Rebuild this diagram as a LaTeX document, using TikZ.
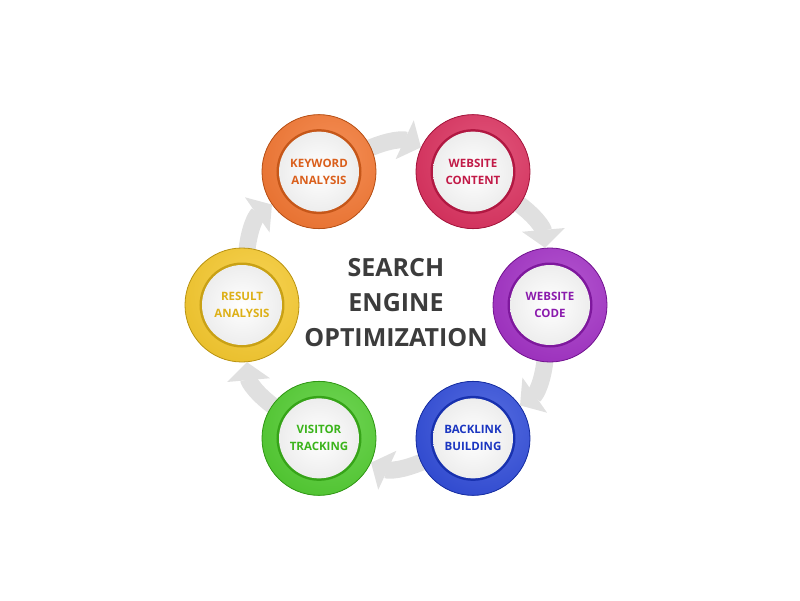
\documentclass[tikz,border=0pt]{standalone}
\usepackage{fontspec}
\setmainfont{Open Sans}
\usetikzlibrary{arrows.meta,backgrounds}

\definecolor{seotitle}{HTML}{3C3C3C}
\definecolor{seoorange}{HTML}{F26A1F}
\definecolor{seored}{HTML}{D81E50}
\definecolor{seopurple}{HTML}{9A1EC0}
\definecolor{seoblue}{HTML}{1E3CD6}
\definecolor{seogreen}{HTML}{42C81E}
\definecolor{seoyellow}{HTML}{F5C41A}

\tikzset{
  stage/.style={circle, minimum size=114pt, inner sep=0pt, fill=#1, draw=#1!75!black,
    line width=0.8pt, text=#1!90!black, align=center,
    font=\bfseries\fontsize{11.5}{17}\selectfont,
    path picture={
      \coordinate (pc) at (path picture bounding box.center);
      \begin{scope}
        \clip (pc) circle (57pt);
        \shade[inner color=#1!75!white, outer color=#1!92!black] ([shift={(12pt,14pt)}]pc) circle (120pt);
      \end{scope}
      \fill[#1!82!black] (pc) circle (42.5pt);
      \begin{scope}
        \clip (pc) circle (40pt);
        \shade[inner color=white, outer color=black!14] (pc) circle (80pt);
      \end{scope}
    }},
  flow/.style={draw=black!12, line width=17pt, shorten <=-8pt,
    -{Triangle[length=18pt,width=42pt]}}
}

\begin{document}
\begin{tikzpicture}[x=1pt,y=1pt]
	\useasboundingbox (-396,-295) rectangle (404,305);
	\node[text=seotitle, align=center, font=\bfseries\fontsize{25}{35}\selectfont] (title) at (0,2) {SEARCH\\ENGINE\\OPTIMIZATION};
	\foreach \nm/\ang/\col/\txt in {kw/120/seoorange/{KEYWORD\\ANALYSIS}, wc/60/seored/{WEBSITE\\CONTENT},
		code/0/seopurple/{WEBSITE\\CODE}, bl/-60/seoblue/{BACKLINK\\BUILDING},
		vt/-120/seogreen/{VISITOR\\TRACKING}, ra/180/seoyellow/{RESULT\\ANALYSIS}}
		\node[stage=\col] (\nm) at (\ang:154) {\txt};
	\begin{scope}[on background layer]
		\foreach \a/\b in {kw/wc, wc/code, code/bl, bl/vt, vt/ra, ra/kw}
			\draw[flow] (\a) to[bend left=25] (\b);
	\end{scope}
\end{tikzpicture}
\end{document}
